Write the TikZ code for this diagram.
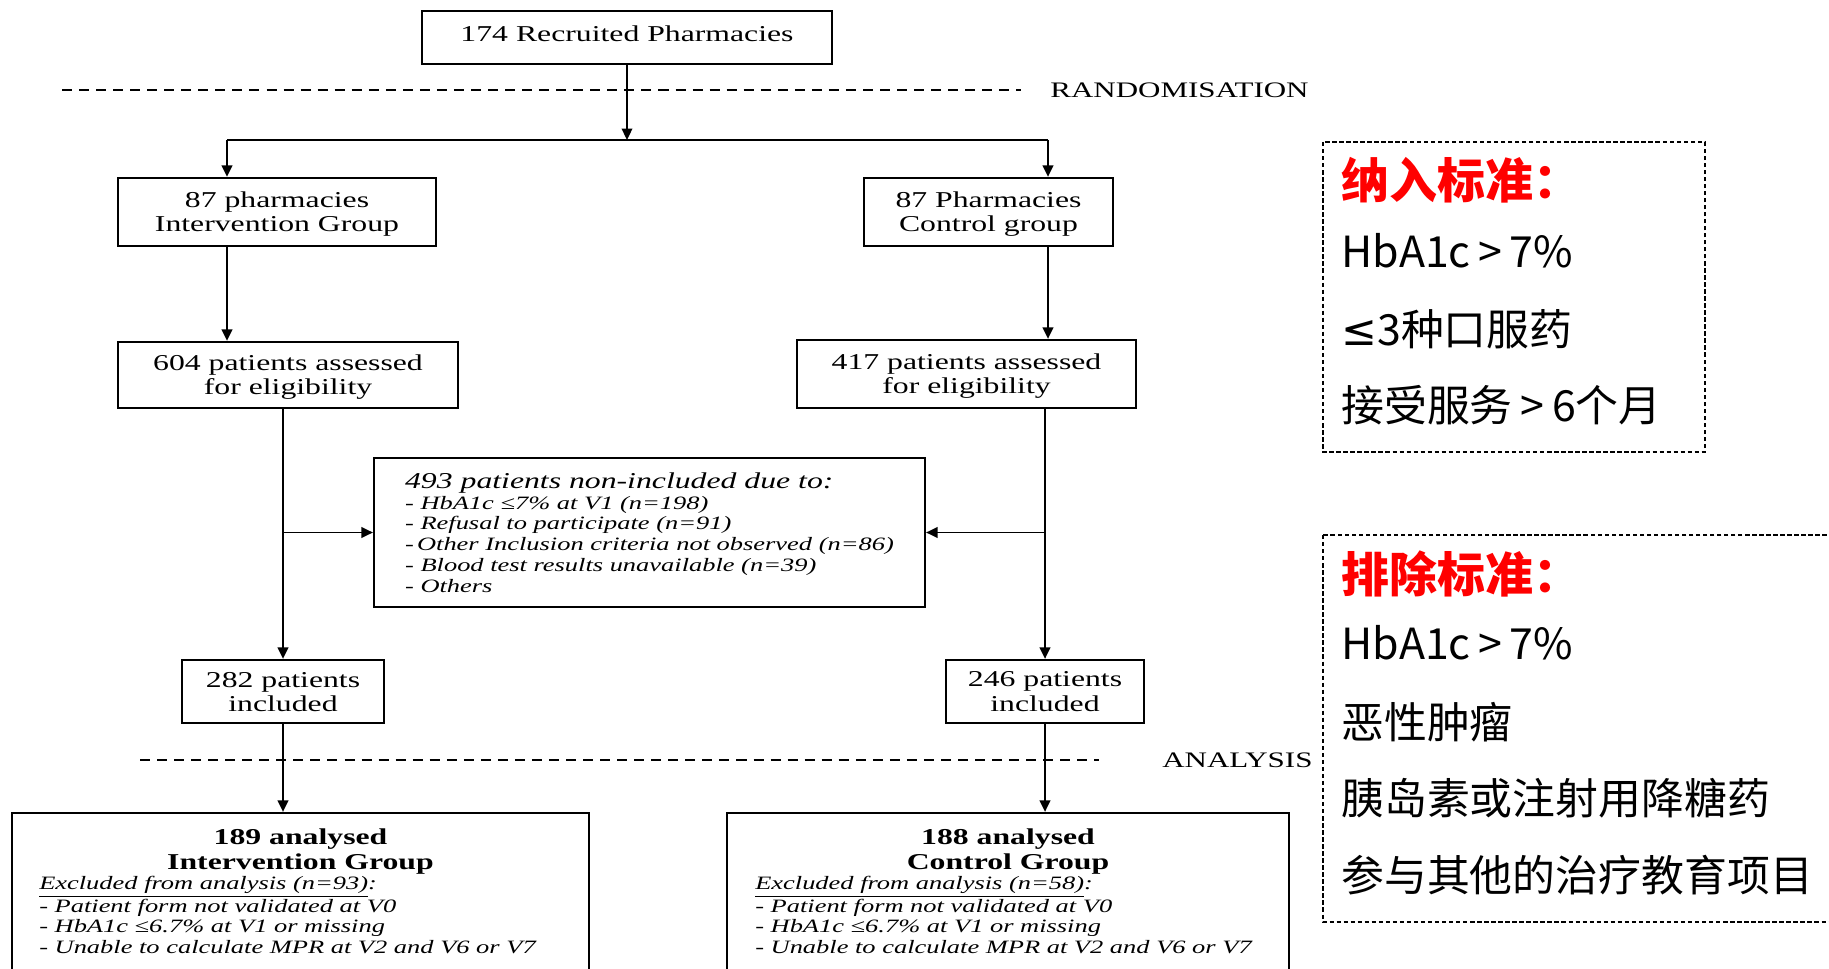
\documentclass[tikz,border=0pt]{standalone}
\usepackage{fontspec}
\usepackage{tikz}
\usetikzlibrary{positioning,arrows.meta}

\newfontfamily\flowfont[FakeStretch=1.4]{Liberation Serif}
\newfontfamily\cjkfont{Noto Sans CJK SC}
\newfontfamily\symfont{DejaVu Sans}
\newcommand{\flowsize}{\fontsize{12.9pt}{13.7pt}\selectfont}
\newcommand{\listsize}{\fontsize{10.75pt}{11.8pt}\selectfont}
\newcommand{\gtsign}{\hspace{0.18em}>\hspace{0.18em}}

\tikzset{
  flowbox/.style={draw, line width=1.3pt, inner sep=0pt, text depth=0pt, align=center, font=\flowfont\flowsize},
  flowtitle/.style={inner sep=0pt, align=center, font=\flowfont\bfseries\fontsize{12.9pt}{14pt}\selectfont},
  flowlist/.style={inner sep=0pt, align=left, font=\flowfont\itshape\listsize},
  flowarrow/.style={line width=1.1pt, -{Triangle[width=6pt,length=6.5pt]}},
  flowline/.style={line width=1.1pt},
  phaseline/.style={line width=1.1pt, dash pattern=on 5.7pt off 4pt},
  phaselabel/.style={inner sep=0pt, anchor=west, font=\flowfont\fontsize{12.6pt}{13pt}\selectfont},
  critbox/.style={line width=0.9pt, dash pattern=on 2.5pt off 1.5pt},
  crittext/.style={inner sep=0pt, anchor=west, font=\cjkfont\fontsize{24.4pt}{26pt}\selectfont},
  crithead/.style={inner sep=0pt, anchor=west, text=red, font=\cjkfont\bfseries\fontsize{27.3pt}{29pt}\selectfont},
}

\begin{document}
\begin{tikzpicture}[x=0.02cm, y=-0.02cm]
\path[use as bounding box, clip] (0,0) rectangle (1829,969);

% flow chart
\node (rec) [flowbox, text depth=0.48em, minimum width=8.2cm, minimum height=1.06cm] at (627,37.5) {174 Recruited Pharmacies};

\draw[phaseline] (62,90) -- (1021,90);
\node (rand) [phaselabel] at (1050,90) {RANDOMISATION};

\coordinate (split) at (627,140);
\coordinate (splitL) at (227,140);
\coordinate (splitR) at (1048,140);

\node (ig) [flowbox, minimum width=6.36cm, minimum height=1.36cm] at (277,212) {87 pharmacies\\Intervention Group};
\node (cg) [flowbox, minimum width=4.98cm, minimum height=1.36cm] at (988.5,212) {87 Pharmacies\\Control group};

\node (e604) [flowbox, minimum width=6.8cm, minimum height=1.32cm] at (288,375) {604 patients assessed\\for eligibility};
\node (e417) [flowbox, minimum width=6.78cm, minimum height=1.36cm] at (966.5,374) {417 patients assessed\\for eligibility};

\node (nonincl) [flowbox, minimum width=11.02cm, minimum height=2.98cm, align=left, font=\flowfont\itshape\listsize] at (649.5,532.5)
  {{\flowsize 493 patients non-included due to:}\\
   - HbA1c ≤7\% at V1 (n=198)\\
   - Refusal to participate (n=91)\\
   -\,Other Inclusion criteria not observed (n=86)\\
   - Blood test results unavailable (n=39)\\
   - Others};

\node (i282) [flowbox, minimum width=4.04cm, minimum height=1.26cm] at (283,691.5) {282 patients\\included};
\node (i246) [flowbox, minimum width=3.96cm, minimum height=1.26cm] at (1045,691.5) {246 patients\\included};

\draw[phaseline] (140,760) -- (1099,760);
\node (anal) [phaselabel] at (1162,760) {ANALYSIS};

\node (aig) [flowbox, minimum width=11.54cm, minimum height=3.54cm] at (300.5,901.5) {};
\node (aigtitle) [flowtitle, below=0.33cm of aig.north] {189 analysed\\Intervention Group};
\node (aiglist) [flowlist, below right=1.28cm and 0.56cm of aig.north west]
  {\underline{Excluded from analysis (n=93)}:\\
   - Patient form not validated at V0\\
   - HbA1c ≤6.7\% at V1 or missing\\
   - Unable to calculate MPR at V2 and V6 or V7};

\node (acg) [flowbox, minimum width=11.24cm, minimum height=3.54cm] at (1008,901.5) {};
\node (acgtitle) [flowtitle, below=0.33cm of acg.north] {188 analysed\\Control Group};
\node (acglist) [flowlist, below right=1.28cm and 0.58cm of acg.north west]
  {\underline{Excluded from analysis (n=58)}:\\
   - Patient form not validated at V0\\
   - HbA1c ≤6.7\% at V1 or missing\\
   - Unable to calculate MPR at V2 and V6 or V7};

% connectors
\draw[flowarrow] (rec) -- (split);
\draw[flowline] (splitL) -- (splitR);
\draw[flowarrow] (splitL) -- (splitL |- ig.north);
\draw[flowarrow] (splitR) -- (splitR |- cg.north);
\draw[flowarrow] (splitL |- ig.south) -- (splitL |- e604.north);
\draw[flowarrow] (splitR |- cg.south) -- (splitR |- e417.north);
\draw[flowarrow] (i282.north |- e604.south) -- (i282.north);
\draw[flowarrow] (i246.north |- e417.south) -- (i246.north);
\draw[flowarrow] (i282.north |- nonincl.west) -- (nonincl.west);
\draw[flowarrow] (i246.north |- nonincl.east) -- (nonincl.east);
\draw[flowarrow] (i282.south) -- (i282.south |- aig.north);
\draw[flowarrow] (i246.south) -- (i246.south |- acg.north);

% criteria
\draw[critbox] (1323,142) rectangle (1705,452);
\node (inchead) [crithead] at (1341,180) {纳入标准：};
\node (inc1) [crittext] at (1341,251) {HbA1c\gtsign 7\%};
\node (inc2) [crittext] at (1341,329) {{\symfont ≤}3种口服药};
\node (inc3) [crittext] at (1341,405) {接受服务\gtsign 6个月};

\draw[critbox] (1323,535) rectangle (1845,922);
\node (exchead) [crithead] at (1341,574) {排除标准：};
\node (exc1) [crittext] at (1341,643) {HbA1c\gtsign 7\%};
\node (exc2) [crittext] at (1341,722) {恶性肿瘤};
\node (exc3) [crittext] at (1341,798) {胰岛素或注射用降糖药};
\node (exc4) [crittext] at (1341,875) {参与其他的治疗教育项目};

\end{tikzpicture}
\end{document}
